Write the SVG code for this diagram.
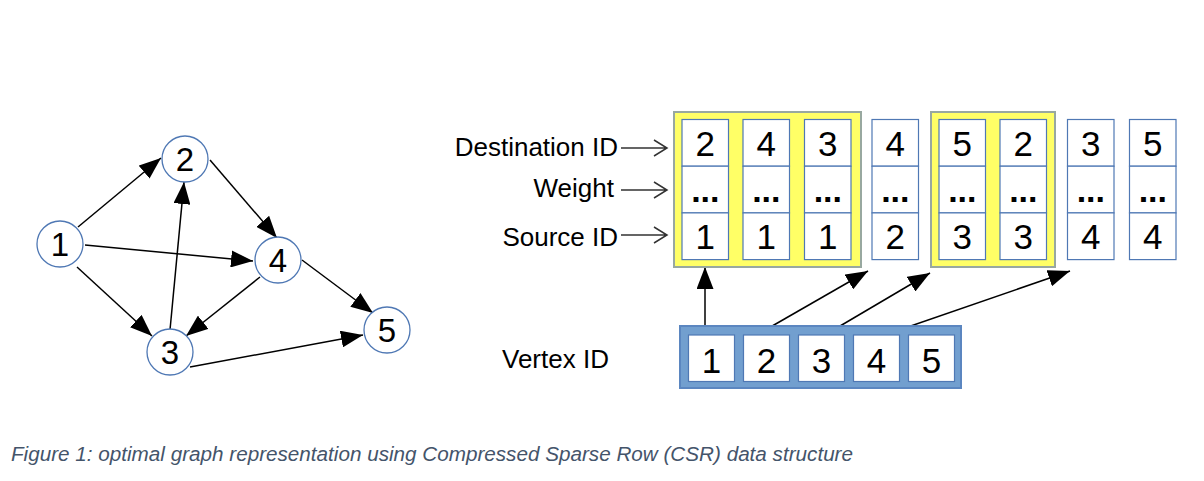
<svg xmlns="http://www.w3.org/2000/svg" width="1204" height="481" viewBox="0 0 1204 481">
<style>
.node circle{fill:#fff;stroke:#4f78b4;stroke-width:1.3}
.nl{font-family:"Liberation Sans",Arial,sans-serif;font-size:33px;fill:#000;text-anchor:middle}
.edge{stroke:#000;stroke-width:1.5;fill:none;marker-end:url(#ah)}
.cell{fill:#fff;stroke:#4f78b4;stroke-width:1.2}
.grp{fill:#ffff66;stroke:#98a8a0;stroke-width:2}
.ct{font-family:"Liberation Sans",Arial,sans-serif;font-size:35px;fill:#000;text-anchor:middle}
.dt{font-family:"Liberation Sans",Arial,sans-serif;font-size:34px;font-weight:bold;fill:#000;text-anchor:middle}
.lbl{font-family:"Liberation Sans",Arial,sans-serif;font-size:26px;fill:#000}
.la{stroke:#333;stroke-width:1.5;fill:none}
.cap{font-family:"Liberation Sans",Arial,sans-serif;font-style:italic;font-size:20px;fill:#44546a}
</style>
<defs>
<marker id="ah" viewBox="0 0 22 17" refX="22" refY="8.5" markerWidth="22" markerHeight="17" markerUnits="userSpaceOnUse" orient="auto">
<path d="M0,0 L22,8.5 L0,17 Z" fill="#000"/>
</marker>
</defs>
<rect width="1204" height="481" fill="#fff"/>
<g id="connectors">
<line class="edge" x1="78" y1="227" x2="161" y2="158"/>
<line class="edge" x1="85" y1="245" x2="253" y2="261"/>
<line class="edge" x1="77" y1="267" x2="152" y2="336"/>
<line class="edge" x1="170" y1="330" x2="184" y2="182"/>
<line class="edge" x1="210" y1="160" x2="277" y2="238"/>
<line class="edge" x1="260" y1="277" x2="186" y2="336"/>
<line class="edge" x1="302" y1="260" x2="373" y2="313"/>
<line class="edge" x1="190" y1="367" x2="363" y2="335"/>
<line class="edge" x1="705" y1="328" x2="705" y2="267"/>
<line class="edge" x1="767" y1="329" x2="868" y2="271"/>
<line class="edge" x1="835" y1="329" x2="930" y2="273"/>
<line class="edge" x1="902" y1="329" x2="1070" y2="271"/>
<path class="la" d="M621,148 H667 M654,140 L667,148 L654,156"/>
<path class="la" d="M621,190 H667 M654,182 L667,190 L654,198"/>
<path class="la" d="M621,235 H667 M654,227 L667,235 L654,243"/>
</g>
<g id="node1" class="node"><circle cx="60" cy="244" r="23"/><text class="nl" x="60" y="256">1</text></g>
<g id="node2" class="node"><circle cx="185" cy="159" r="23"/><text class="nl" x="185" y="171">2</text></g>
<g id="node3" class="node"><circle cx="170" cy="352" r="23"/><text class="nl" x="170" y="364">3</text></g>
<g id="node4" class="node"><circle cx="278" cy="260" r="23"/><text class="nl" x="278" y="272">4</text></g>
<g id="node5" class="node"><circle cx="387" cy="330" r="23"/><text class="nl" x="387" y="342">5</text></g>
<g id="labels">
<text class="lbl" x="618" y="156" text-anchor="end">Destination ID</text>
<text class="lbl" x="614" y="197" text-anchor="end">Weight</text>
<text class="lbl" x="618" y="246" text-anchor="end">Source ID</text>
<text class="lbl" x="502" y="368">Vertex ID</text>
</g>
<g id="group1"><rect class="grp" x="674" y="112" width="187" height="155"/></g>
<g id="group2"><rect class="grp" x="931" y="112" width="124" height="155"/></g>
<g id="edgearray">
<g id="col1"><rect class="cell" x="682" y="119.5" width="46.5" height="46.7"/><rect class="cell" x="682" y="166.2" width="46.5" height="46.7"/><rect class="cell" x="682" y="212.9" width="46.5" height="46.7"/><text class="ct" x="705.3" y="156">2</text><text class="dt" x="705.3" y="202">...</text><text class="ct" x="705.3" y="249">1</text></g>
<g id="col2"><rect class="cell" x="743" y="119.5" width="46.5" height="46.7"/><rect class="cell" x="743" y="166.2" width="46.5" height="46.7"/><rect class="cell" x="743" y="212.9" width="46.5" height="46.7"/><text class="ct" x="766.3" y="156">4</text><text class="dt" x="766.3" y="202">...</text><text class="ct" x="766.3" y="249">1</text></g>
<g id="col3"><rect class="cell" x="804.5" y="119.5" width="46.5" height="46.7"/><rect class="cell" x="804.5" y="166.2" width="46.5" height="46.7"/><rect class="cell" x="804.5" y="212.9" width="46.5" height="46.7"/><text class="ct" x="827.8" y="156">3</text><text class="dt" x="827.8" y="202">...</text><text class="ct" x="827.8" y="249">1</text></g>
<g id="col4"><rect class="cell" x="872" y="119.5" width="46.5" height="46.7"/><rect class="cell" x="872" y="166.2" width="46.5" height="46.7"/><rect class="cell" x="872" y="212.9" width="46.5" height="46.7"/><text class="ct" x="895.3" y="156">4</text><text class="dt" x="895.3" y="202">...</text><text class="ct" x="895.3" y="249">2</text></g>
<g id="col5"><rect class="cell" x="939" y="119.5" width="46.5" height="46.7"/><rect class="cell" x="939" y="166.2" width="46.5" height="46.7"/><rect class="cell" x="939" y="212.9" width="46.5" height="46.7"/><text class="ct" x="962.3" y="156">5</text><text class="dt" x="962.3" y="202">...</text><text class="ct" x="962.3" y="249">3</text></g>
<g id="col6"><rect class="cell" x="1000" y="119.5" width="46.5" height="46.7"/><rect class="cell" x="1000" y="166.2" width="46.5" height="46.7"/><rect class="cell" x="1000" y="212.9" width="46.5" height="46.7"/><text class="ct" x="1023.3" y="156">2</text><text class="dt" x="1023.3" y="202">...</text><text class="ct" x="1023.3" y="249">3</text></g>
<g id="col7"><rect class="cell" x="1067.5" y="119.5" width="46.5" height="46.7"/><rect class="cell" x="1067.5" y="166.2" width="46.5" height="46.7"/><rect class="cell" x="1067.5" y="212.9" width="46.5" height="46.7"/><text class="ct" x="1090.8" y="156">3</text><text class="dt" x="1090.8" y="202">...</text><text class="ct" x="1090.8" y="249">4</text></g>
<g id="col8"><rect class="cell" x="1129.5" y="119.5" width="46.5" height="46.7"/><rect class="cell" x="1129.5" y="166.2" width="46.5" height="46.7"/><rect class="cell" x="1129.5" y="212.9" width="46.5" height="46.7"/><text class="ct" x="1152.8" y="156">5</text><text class="dt" x="1152.8" y="202">...</text><text class="ct" x="1152.8" y="249">4</text></g>
</g>
<g id="vertexarray">
<rect x="680" y="326" width="281" height="62" fill="#729fcf" stroke="#5b86c0" stroke-width="2"/>
<rect class="cell" x="688.5" y="335" width="46" height="46.5"/>
<rect class="cell" x="743.5" y="335" width="46" height="46.5"/>
<rect class="cell" x="798.5" y="335" width="46" height="46.5"/>
<rect class="cell" x="853.5" y="335" width="46" height="46.5"/>
<rect class="cell" x="908.5" y="335" width="46" height="46.5"/>
<text class="ct" x="711.5" y="373">1</text>
<text class="ct" x="766.5" y="373">2</text>
<text class="ct" x="821.5" y="373">3</text>
<text class="ct" x="876.5" y="373">4</text>
<text class="ct" x="931.5" y="373">5</text>
</g>
<text class="cap" x="11" y="461" textLength="842" lengthAdjust="spacingAndGlyphs">Figure 1: optimal graph representation using Compressed Sparse Row (CSR) data structure</text>
</svg>
